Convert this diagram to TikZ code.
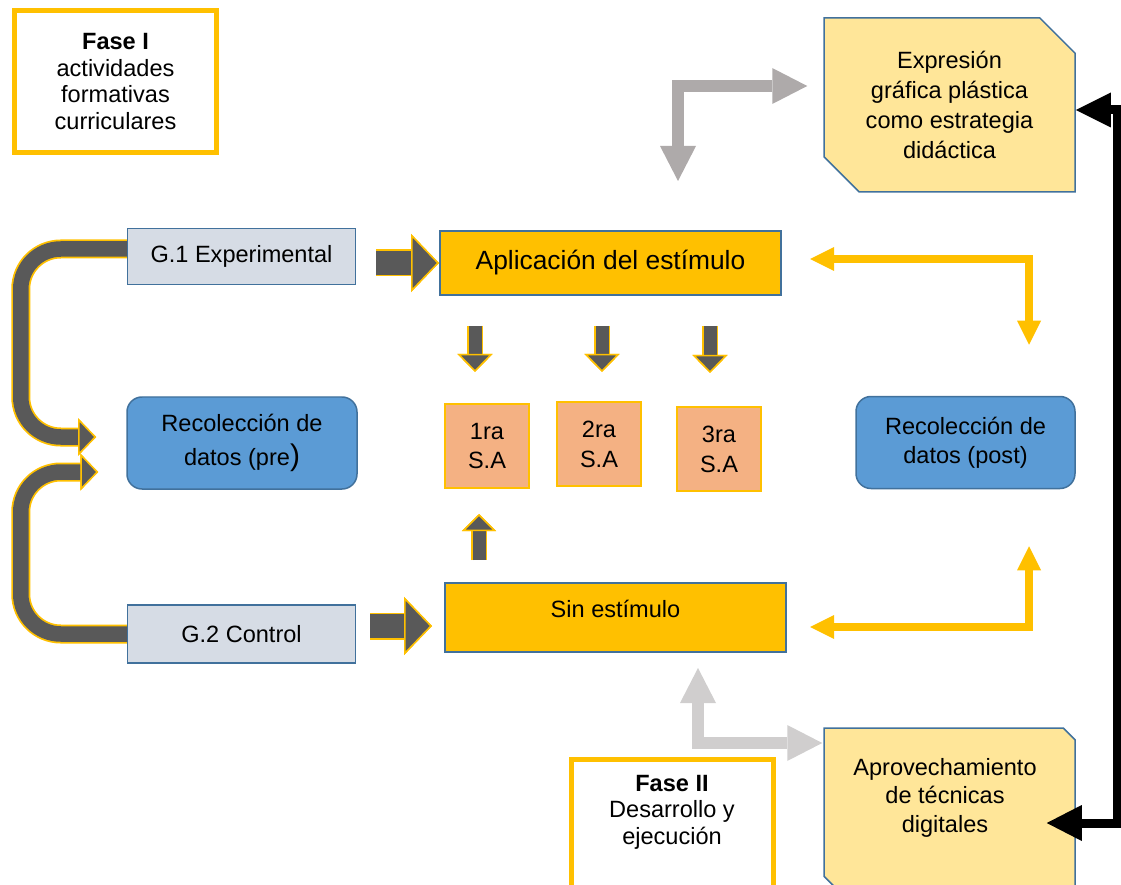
\documentclass[tikz,border=0pt]{standalone}
\usepackage{fontspec}
\setmainfont{Liberation Sans}
\usepackage{xcolor}
\usepackage{tikz}
\usetikzlibrary{shapes.misc,arrows.meta,positioning}

\definecolor{gold}{HTML}{FFC000}
\definecolor{dkgray}{HTML}{595959}
\definecolor{midgray}{HTML}{AEAAAA}
\definecolor{ltgray}{HTML}{D0CECE}
\definecolor{edgeblue}{HTML}{41719C}
\definecolor{paleyel}{HTML}{FFE699}
\definecolor{greyblue}{HTML}{D6DCE5}
\definecolor{boxblue}{HTML}{5B9BD5}
\definecolor{salmon}{HTML}{F4B183}

\newcommand{\diagfont}[1]{\fontsize{13.4pt}{#1}\selectfont}

\begin{document}
\begin{tikzpicture}[
    phase/.style={
        rectangle, draw=gold, fill=white, line width=0.1cm,
        minimum width=4.04cm, minimum height=2.84cm,
        align=center, font=\diagfont{15.3pt}
    },
    group/.style={
        rectangle, draw=edgeblue, fill=greyblue, line width=0.03cm,
        minimum width=4.56cm, minimum height=1.12cm,
        font=\diagfont{17pt}
    },
    collect/.style={
        rectangle, rounded corners=0.3cm,
        draw=edgeblue, fill=boxblue, line width=0.03cm,
        minimum width=4.6cm, minimum height=1.84cm,
        align=center, font=\diagfont{19.3pt}
    },
    stim/.style={
        rectangle, draw=edgeblue, fill=gold, line width=0.04cm,
        minimum width=6.82cm, minimum height=1.28cm,
        font=\diagfont{17pt}
    },
    sa/.style={
        rectangle, draw=gold, fill=salmon, line width=0.05cm,
        minimum width=1.68cm, minimum height=1.68cm,
        align=center, font=\diagfont{17pt}
    },
    snip/.style={
        chamfered rectangle,
        chamfered rectangle corners={north east,south west},
        chamfered rectangle xsep=0.58cm,
        draw=edgeblue, fill=paleyel, line width=0.03cm,
        minimum width=5.02cm, align=center, font=\diagfont{17pt}
    },
    fat/.style 2 args={draw=dkgray, line width=#1, preaction={draw=gold, line width=#2}},
    fathead/.style 2 args={-{Triangle[length=#1, width=#2, line width=0.03cm, color=gold, fill=dkgray]}},
    garrow/.style={draw=#1, line width=0.24cm,
        {Triangle[length=0.7cm, width=0.72cm, line width=0pt]}-{Triangle[length=0.7cm, width=0.72cm, line width=0pt]}},
    yarrow/.style={draw=gold, line width=0.16cm,
        {Triangle[length=0.48cm, width=0.48cm, line width=0pt]}-{Triangle[length=0.48cm, width=0.48cm, line width=0pt]}},
    barrow/.style={draw=black, line width=0.18cm,
        {Triangle[length=0.7cm, width=0.7cm, line width=0pt]}-{Triangle[length=0.7cm, width=0.72cm, line width=0pt]}}
]
\useasboundingbox (0,0) rectangle (22.42,-17.7);

% Phases
\node[phase] (fase1) at (2.31,-1.63) {
    \textbf{Fase I}\\actividades\\formativas\\curriculares
};
\node[phase] (fase2) at (13.44,-16.61) {};
\node[anchor=north, align=center, font=\diagfont{15pt}] (fase2txt) at ([yshift=-0.24cm]fase2.north) {
    \textbf{Fase II}\\Desarrollo y\\ejecución
};

% Groups
\node[group] (g1) at (4.83,-5.13) {G.1 Experimental};
\node[group, minimum height=1.16cm] (g2) at (4.83,-12.68) {G.2 Control};

% Data collection
\node[collect] (pre) at (4.84,-8.86) {
    Recolección de\\datos (pre{\fontsize{17pt}{17pt}\selectfont)}
};
\node[collect, minimum width=4.38cm, font=\diagfont{16.5pt}] (post) at (19.31,-8.85) {
    Recolección de\\datos (post)
};

% Stimulus
\node[stim, font=\fontsize{15pt}{18pt}\selectfont] (apl) at (12.21,-5.26) {Aplicación del estímulo};
\node[stim, minimum height=1.38cm, text height=0.3cm, text depth=0.3cm] (sin) at (12.31,-12.35) {Sin estímulo};

% Sessions
\node[sa] (sa1) at (9.74,-8.92) {1ra\\S.A};
\node[sa] (sa2) at (11.98,-8.88) {2ra\\S.A};
\node[sa] (sa3) at (14.38,-8.98) {3ra\\S.A};

% Strategy boxes
\node[snip, minimum height=3.48cm] (expr) at (18.99,-2.10) {
    Expresión\\gráfica plástica\\como estrategia\\didáctica
};
\node[snip, minimum height=3.2cm] (aprov) at (18.99,-16.16) {};
\node[anchor=north, align=center, font=\diagfont{16.2pt}] (aprovtxt) at ([xshift=-0.09cm,yshift=-0.5cm]aprov.north) {
    Aprovechamiento\\de técnicas\\digitales
};

% Block arrows
\draw[fat={0.31cm}{0.38cm}, fathead={0.36cm}{0.74cm}, rounded corners=0.8cm]
    ([yshift=0.15cm]g1.west) -- ++(-2.12,0) |- ([xshift=-0.6cm,yshift=0.12cm]pre.west);
\draw[fat={0.31cm}{0.38cm}, fathead={0.36cm}{0.74cm}, rounded corners=0.8cm]
    (g2.west) -- ++(-2.12,0) |- ([xshift=-0.56cm,yshift=-0.58cm]pre.west);
\draw[fat={0.48cm}{0.54cm}, fathead={0.56cm}{1.16cm}] ([xshift=-1.26cm]apl.west) -- (apl.west);
\draw[fat={0.48cm}{0.54cm}, fathead={0.56cm}{1.16cm}]
    ([xshift=-1.48cm,yshift=-0.17cm]sin.west) -- ([xshift=-0.24cm,yshift=-0.17cm]sin.west);
\draw[fat={0.26cm}{0.32cm}, fathead={0.36cm}{0.7cm}] ([xshift=-2.71cm]apl.south) ++(0,-0.6) -- ++(0,-0.92);
\draw[fat={0.26cm}{0.32cm}, fathead={0.36cm}{0.7cm}] ([xshift=-0.17cm]apl.south) ++(0,-0.6) -- ++(0,-0.92);
\draw[fat={0.26cm}{0.32cm}, fathead={0.36cm}{0.7cm}] ([xshift=1.99cm]apl.south) ++(0,-0.6) -- ++(0,-0.94);
\draw[fat={0.26cm}{0.32cm}, fathead={0.34cm}{0.68cm}] ([xshift=-2.73cm]sin.north) ++(0,0.44) -- ++(0,0.92);

% Elbow arrows
\draw[garrow=midgray] ([xshift=-0.32cm,yshift=0.38cm]expr.west) -| ([xshift=1.35cm,yshift=0.98cm]apl.north);
\draw[garrow=ltgray] ([xshift=1.65cm,yshift=-0.3cm]sin.south) |- ([xshift=-0.02cm,yshift=1.3cm]aprov.west);
\draw[yarrow] ([xshift=0.56cm,yshift=0.08cm]apl.east) -| ([xshift=1.27cm,yshift=1.02cm]post.north);
\draw[yarrow] ([xshift=0.46cm,yshift=-0.19cm]sin.east) -| ([xshift=1.27cm,yshift=-1.14cm]post.south);
\draw[barrow] ([yshift=-0.1cm]expr.east) -- ++(0.84,0) |- ([xshift=-0.58cm,yshift=-0.3cm]aprov.east);
\end{tikzpicture}
\end{document}
